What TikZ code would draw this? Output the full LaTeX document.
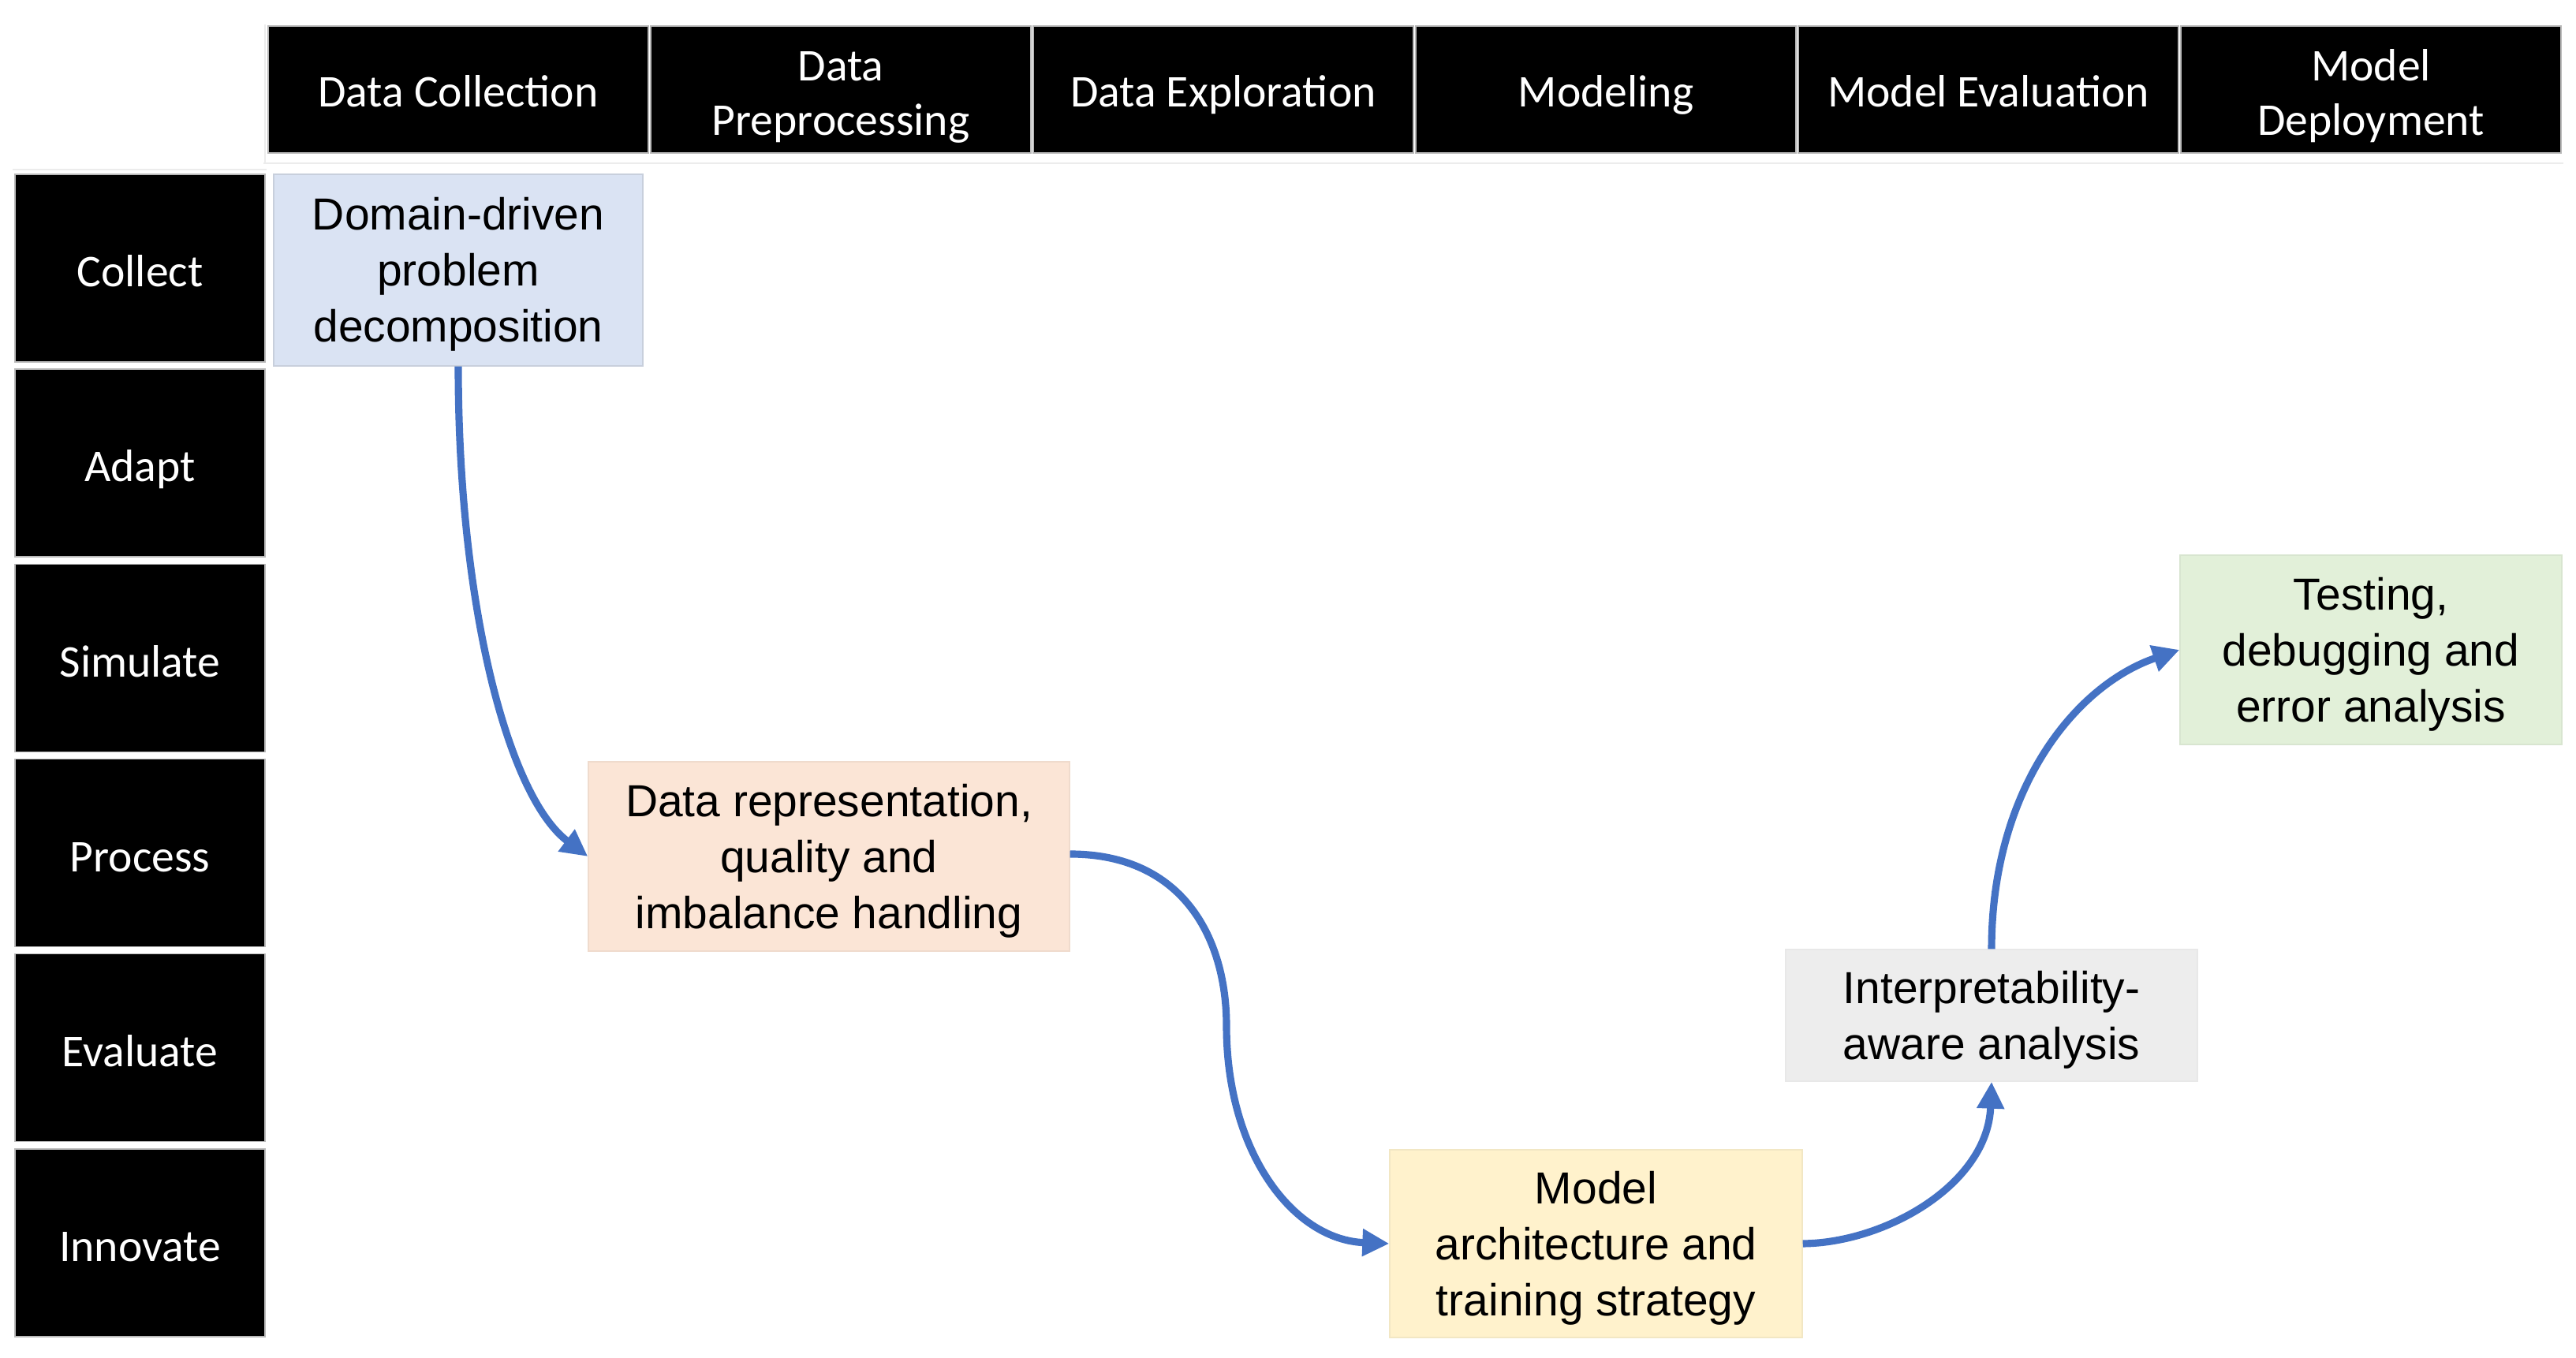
\documentclass[tikz,border=0pt]{standalone}
\usepackage{fontspec}
\setmainfont{Liberation Sans}
\newfontfamily\hdrfont{Carlito}
\usetikzlibrary{arrows.meta}

\definecolor{boxblue}{HTML}{DAE3F3}
\definecolor{boxorange}{HTML}{FBE5D6}
\definecolor{boxyellow}{HTML}{FFF2CC}
\definecolor{boxgray}{HTML}{EDEDED}
\definecolor{boxgreen}{HTML}{E2F0D9}
\definecolor{flowblue}{HTML}{4472C4}

% stacked lines, baseline at the last line
\newcommand{\stk}[1]{\begin{tabular}[b]{@{}c@{}}#1\end{tabular}}

\tikzset{hdr/.style={fill=black,draw=gray!55,line width=0.4pt,text=white,inner sep=0pt,text depth=1.3pt,
  minimum width=4.82cm,minimum height=1.61cm,font=\hdrfont\fontsize{16.4}{19.6}\selectfont}}
\tikzset{rowhdr/.style={hdr,text depth=0.2pt,minimum width=3.17cm,minimum height=2.38cm}}
\tikzset{stagebox/.style={inner sep=0pt,text depth=2.5pt,font=\fontsize{16.2}{20.2}\selectfont}}
\tikzset{flow/.style={flowblue,line width=2.6pt,-{Triangle[length=0.34cm,width=0.33cm]}}}

\begin{document}
\begin{tikzpicture}
      \useasboundingbox (0,0) rectangle (32.66,17.21);
      \pgfmathsetmacro{\colw}{4.85}
      \pgfmathsetmacro{\rowh}{2.472}
      \pgfmathsetmacro{\hdry}{16.075}

      % faint table lines
      \draw[gray!15,line width=0.5pt] (3.34,15.14) -- (32.50,15.14);
      \draw[gray!15,line width=0.5pt] (3.36,15.14) -- (3.36,16.90);
      \draw[gray!15,line width=0.5pt] (0.16,15.06) -- (3.38,15.06);

      \node[hdr] at (5.81,\hdry) (dc) {\stk{Data Collection}};
      \node[hdr,text depth=0.5pt] at (5.81+\colw,\hdry) (dp) {\stk{Data\\Preprocessing}};
      \node[hdr] at (5.81+2*\colw,\hdry) (de) {\stk{Data Exploration}};
      \node[hdr] at (5.81+3*\colw,\hdry) (mo) {\stk{Modeling}};
      \node[hdr] at (5.81+4*\colw,\hdry) (me) {\stk{Model Evaluation}};
      \node[hdr,text depth=0.5pt] at (5.81+5*\colw,\hdry) (md) {\stk{Model\\Deployment}};

      \node[rowhdr] at (1.775,13.81) (collect) {\stk{Collect}};
      \node[rowhdr] at (1.775,13.81-\rowh) (adapt) {\stk{Adapt}};
      \node[rowhdr] at (1.775,13.81-2*\rowh) (simulate) {\stk{Simulate}};
      \node[rowhdr] at (1.775,13.81-3*\rowh) (process) {\stk{Process}};
      \node[rowhdr] at (1.775,13.81-4*\rowh) (evaluate) {\stk{Evaluate}};
      \node[rowhdr] at (1.775,13.81-5*\rowh) (innovate) {\stk{Innovate}};

      \node[stagebox,fill=boxblue,draw=boxblue!80!gray,minimum width=4.68cm,minimum height=2.43cm]
        at (5.81,13.785) (domain) {\stk{Domain-driven\\problem\\decomposition}};
      \node[stagebox,fill=boxorange,draw=boxorange!90!gray,minimum width=6.10cm,minimum height=2.40cm]
        at (10.51,6.35) (datarep) {\stk{Data representation,\\quality and\\imbalance handling}};
      \node[stagebox,fill=boxyellow,draw=boxyellow!90!gray,minimum width=5.23cm,minimum height=2.38cm]
        at (20.235,1.44) (arch) {\stk{Model\\architecture and\\training strategy}};
      \node[stagebox,fill=boxgray,draw=boxgray!95!gray,minimum width=5.22cm,minimum height=1.67cm]
        at (25.25,4.335) (interp) {\stk{Interpretability-\\aware analysis}};
      \node[stagebox,fill=boxgreen,draw=boxgreen!90!gray,minimum width=4.84cm,minimum height=2.40cm]
        at (30.06,8.97) (testing) {\stk{Testing,\\debugging and\\error analysis}};

      \draw[flow] (domain.south) .. controls +(0,-3.07) and +(-1.0,0.75) .. (datarep.west);
      \draw[flow] ([yshift=0.3mm]datarep.east) .. controls +(1.44,0) and +(0,1.1) .. (15.55,4.2)
                  .. controls +(0,-1.6) and +(-1.22,0.05) .. (arch.west);
      \draw[flow] (arch.east) .. controls +(1.05,0.01) and +(-0.05,-1.3) .. (interp.south);
      \draw[flow] (interp.north) .. controls +(0,2.03) and +(-1.32,-0.45) .. (testing.west);
    \end{tikzpicture}
\end{document}
